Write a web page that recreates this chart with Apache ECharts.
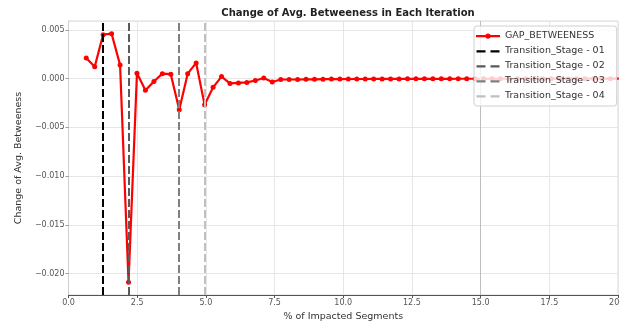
<!DOCTYPE html>
<html>
<head>
<meta charset="utf-8">
<script src="https://cdn.jsdelivr.net/npm/echarts@6/dist/echarts.min.js"></script>
<style>html,body{margin:0;padding:0;background:#fff}#c{width:619px;height:323px}</style>
</head>
<body>
<div id="c"></div>
<script>
const titleText = 'Change of Avg. Betweeness in Each Iteration';
const xName = '% of Impacted Segments';
const yName = 'Change of Avg. Betweeness';
const seriesName = 'GAP_BETWEENESS';
const impacted = [0.646,0.954,1.261,1.569,1.877,2.185,2.492,2.800,3.108,3.415,3.723,4.031,4.338,4.646,4.954,5.262,5.569,5.877,6.185,6.492,6.800,7.108,7.415,7.723,8.031,8.339,8.646,8.954,9.262,9.569,9.877,10.185,10.492,10.800,11.108,11.416,11.723,12.031,12.339,12.646,12.954,13.262,13.569,13.877,14.185,14.493,14.800,15.108,15.416,15.723,16.031,16.339,16.646,16.954,17.262,17.570,17.877,18.185,18.493,18.800,19.108,19.416,19.723,20.031];
const gapBetweeness = [0.0021,0.0012,0.0045,0.0046,0.0014,-0.0209,0.00055,-0.0012,-0.0003,0.0005,0.00045,-0.0032,0.0005,0.0016,-0.0027,-0.0009,0.0002,-0.0005,-0.00045,-0.0004,-0.0002,0.00005,-0.00035,-0.0001,-0.0001,-0.0001,-0.00008,-0.00008,-0.00007,-0.00006,-0.00006,-0.00005,-0.00005,-0.00005,-0.00004,-0.00004,-0.00004,-0.00004,-0.00003,-0.00003,-0.00003,-0.00003,-0.00003,-0.00003,-0.00002,-0.00002,-0.00002,-0.00002,-0.00002,-0.00002,-0.00002,-0.00002,-0.00002,-0.00001,-0.00001,-0.00001,-0.00001,-0.00001,-0.00001,-0.00001,-0.00001,-0.00001,-0.00001,-0.00001];
const stageNames = ['Transition_Stage - 01','Transition_Stage - 02','Transition_Stage - 03','Transition_Stage - 04'];
const stageX = [1.261, 2.185, 4.031, 4.954];
const stageColors = ['#000000', '#5a5a5a', '#808080', '#c0c0c0'];
const xTickLabels = ['0.0','2.5','5.0','7.5','10.0','12.5','15.0','17.5','20.0'];
const xRange = [0, 20];
const yRange = [-0.0222, 0.0059];
const darkGridX = 15;

const chart = echarts.init(document.getElementById('c'), null, {renderer: 'canvas'});
const font = 'DejaVu Sans';
const dashIcon = 'path://M0,0M24,12M0.5,5.2h9v2.2h-9zM14.5,5.2h9v2.2h-9z';
const lineDotIcon = 'path://M0,0M24,12M0,5h24v2.2h-24zM9.4,6.1a2.6,2.6 0 1,1 5.2,0a2.6,2.6 0 1,1 -5.2,0z';
const series = [{
  name: seriesName,
  type: 'line',
  data: impacted.map((x, i) => [x, gapBetweeness[i]]),
  symbol: 'circle',
  symbolSize: 5,
  showSymbol: true,
  clip: true,
  z: 3,
  lineStyle: {color: '#ff0000', width: 2.2},
  itemStyle: {color: '#ff0000'},
  emphasis: {disabled: true},
  animation: false
}, {
  name: '_grid15',
  type: 'line',
  data: [],
  z: 1,
  silent: true,
  markLine: {
    silent: true, symbol: ['none', 'none'], label: {show: false},
    lineStyle: {color: '#bdbdbd', width: 1, type: 'solid'},
    data: [{xAxis: darkGridX}], animation: false
  }
}];
stageNames.forEach((n, i) => {
  series.push({
    name: n,
    type: 'line',
    data: [],
    symbol: 'none',
    z: 5,
    lineStyle: {color: stageColors[i], width: 2, type: [8, 3]},
    itemStyle: {color: stageColors[i]},
    markLine: {
      silent: true, symbol: ['none', 'none'], label: {show: false},
      lineStyle: {color: stageColors[i], width: 2, type: [8, 3]},
      data: [{xAxis: stageX[i]}], animation: false
    },
    animation: false
  });
});

chart.setOption({
  animation: false,
  backgroundColor: '#fff',
  title: {
    text: titleText, left: 343, top: 3, textAlign: 'center',
    textStyle: {fontFamily: font, fontWeight: 'bold', fontSize: 10, color: '#222'}
  },
  legend: {
    orient: 'vertical', left: 474, top: 26,
    padding: [4, 12, 4, 2], itemGap: 3, itemWidth: 24, itemHeight: 12,
    backgroundColor: 'rgba(255,255,255,0.8)', borderColor: '#d0d0d0', borderWidth: 1, borderRadius: 3,
    data: [{name: seriesName, icon: lineDotIcon, itemStyle: {color: '#ff0000'}}].concat(
      stageNames.map((n, i) => ({name: n, icon: dashIcon, itemStyle: {color: stageColors[i]}}))),
    textStyle: {fontFamily: font, fontSize: 9.5, color: '#333', lineHeight: 12},
    z: 6
  },
  grid: {left: 68.5, right: 1, top: 21, bottom: 28, show: true, borderColor: '#d8d8d8', borderWidth: 1,
    containLabel: false, outerBoundsMode: 'none'},
  xAxis: {
    type: 'value', min: xRange[0], max: xRange[1], interval: 2.5,
    name: xName, nameLocation: 'middle', nameGap: 12,
    nameTextStyle: {fontFamily: font, fontSize: 9.5, color: '#333'},
    axisLine: {onZero: false, lineStyle: {color: '#555', width: 1}},
    axisTick: {show: true, length: 3, lineStyle: {color: '#555'}},
    axisLabel: {fontFamily: font, fontSize: 8, color: '#555', margin: 4,
      formatter: (v) => { const i = Math.round(v / 2.5); return xTickLabels[i] !== undefined ? xTickLabels[i] : v.toFixed(1); }},
    splitLine: {show: true, lineStyle: {color: '#e6e6e6', width: 1}}
  },
  yAxis: {
    type: 'value', min: yRange[0], max: yRange[1],
    name: yName, nameLocation: 'middle', nameGap: 28, nameRotate: 90,
    nameTextStyle: {fontFamily: font, fontSize: 9.5, color: '#333'},
    axisLine: {show: true, onZero: false, lineStyle: {color: '#cfcfcf', width: 1}},
    axisTick: {show: true, length: 3, lineStyle: {color: '#999'}},
    axisLabel: {fontFamily: font, fontSize: 8, color: '#555', margin: 4,
      showMinLabel: false, showMaxLabel: false,
      formatter: (v) => { const r = Math.round(v * 1000) / 1000; return r < 0 ? '\u2212' + Math.abs(r).toFixed(3) : Math.abs(r).toFixed(3); }},
    splitLine: {show: true, lineStyle: {color: '#e6e6e6', width: 1}}
  },
  series: series
});
</script>
</body>
</html>
